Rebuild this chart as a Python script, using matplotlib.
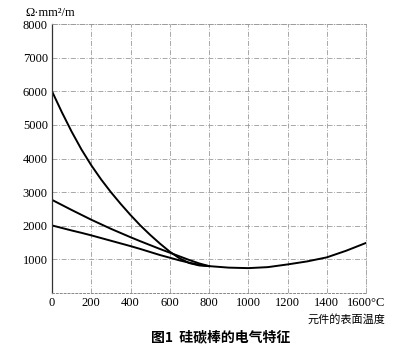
import matplotlib.pyplot as plt

# surface temperature (°C) for the falling branches, resistivity in Ω·mm²/m
temp_branch = [0, 50, 100, 150, 200, 250, 300, 350, 400, 450, 500, 550, 600, 650, 700, 750, 800]
rod_high = [6000, 5380, 4800, 4270, 3800, 3380, 3000, 2650, 2320, 2010, 1730, 1470, 1230, 1030, 890, 820, 800]
rod_mid = [2770, 2620, 2470, 2325, 2180, 2045, 1910, 1785, 1660, 1540, 1425, 1310, 1200, 1090, 980, 880, 800]
rod_low = [2010, 1935, 1860, 1790, 1715, 1635, 1555, 1475, 1395, 1310, 1220, 1130, 1050, 970, 900, 840, 800]

# shared high-temperature part of all three curves
temp_tail = [800, 900, 1000, 1100, 1200, 1300, 1400, 1500, 1600]
rod_tail = [800, 755, 740, 770, 850, 940, 1060, 1260, 1490]

x_ticks = [0, 200, 400, 600, 800, 1000, 1200, 1400, 1600]
x_labels = ["0", "200", "400", "600", "800", "1000", "1200", "1400", "1600°C"]
y_ticks = [1000, 2000, 3000, 4000, 5000, 6000, 7000, 8000]

serif = "Liberation Serif"
cjk = ["Noto Sans CJK SC", "DejaVu Sans"]

fig = plt.figure(figsize=(4.04, 3.48), dpi=100)
ax = fig.add_axes([0.1287, 0.158, 0.7773, 0.773])

for values in (rod_high, rod_mid, rod_low):
    ax.plot(temp_branch, values, color="black", lw=1.4, solid_joinstyle="round")
ax.plot(temp_tail, rod_tail, color="black", lw=1.4, solid_joinstyle="round")

ax.set_xlim(0, 1600)
ax.set_ylim(0, 8000)
ax.set_xticks(x_ticks)
ax.set_xticklabels(x_labels, family=serif, fontsize=9)
ax.set_yticks(y_ticks)
ax.set_yticklabels([str(v) for v in y_ticks], family=serif, fontsize=9)
ax.tick_params(length=0, pad=3)

grid_dash = (0, (6, 2, 1, 2))
ax.grid(True, color="#9a9a9a", lw=0.6, ls=grid_dash)
for side in ("top", "right"):
    ax.spines[side].set_linestyle(grid_dash)
    ax.spines[side].set_color("#9a9a9a")
    ax.spines[side].set_linewidth(0.6)
ax.spines["left"].set_linestyle((0, (4, 1)))
ax.spines["left"].set_color("#333333")
ax.spines["left"].set_linewidth(0.9)
ax.spines["bottom"].set_linestyle((0, (2, 2)))
ax.spines["bottom"].set_color("#888888")
ax.spines["bottom"].set_linewidth(0.7)

fig.text(0.062, 0.963, "Ω·mm²/m", family=serif, fontsize=9, ha="left", va="center")
fig.text(0.955, 0.083, "元件的表面温度", family=cjk, fontsize=8, ha="right", va="center")
fig.text(0.545, 0.03, "图1  硅碳棒的电气特征", family=cjk, fontsize=10,
         fontweight="bold", ha="center", va="center")

fig.savefig("out.png", dpi=100)
